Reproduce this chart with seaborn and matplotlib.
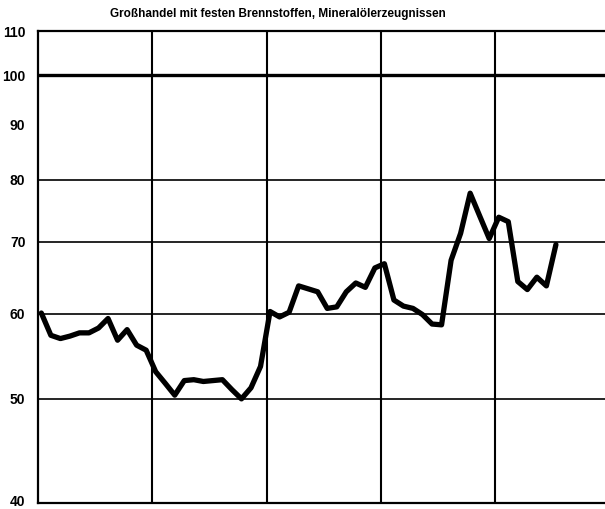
import numpy as np
import matplotlib
matplotlib.use('Agg')
import matplotlib.pyplot as plt
import matplotlib.transforms as mtransforms
import seaborn as sns

# monthly index values (log scale chart)
months = np.arange(55) + 0.35
index_values = [60.1, 57.3, 56.9, 57.2, 57.6, 57.6, 58.2, 59.4, 56.7, 58.0,
                56.1, 55.5, 53.0, 51.7, 50.4, 52.0, 52.1, 51.9, 52.0, 52.1,
                51.0, 50.0, 51.2, 53.6, 60.3, 59.6, 60.2, 63.7, 63.3, 62.9,
                60.7, 60.9, 62.9, 64.1, 63.5, 66.2, 66.8, 61.8, 61.0, 60.7,
                59.9, 58.7, 58.6, 67.3, 71.3, 77.7, 74.0, 70.5, 73.8, 73.1,
                64.3, 63.2, 64.9, 63.7, 69.6]
y_ticks = [40, 50, 60, 70, 80, 90, 100, 110]
grid_lines = [50, 60, 70, 80]
year_lines = [12, 24, 36, 48]
title = 'Großhandel mit festen Brennstoffen, Mineralölerzeugnissen'

sns.set_style('white')
plt.rcParams['font.family'] = ['Liberation Sans', 'DejaVu Sans']
plt.rcParams['text.color'] = 'black'
plt.rcParams['ytick.color'] = 'black'

fig = plt.figure(figsize=(6.05, 5.09), dpi=100)
ax = fig.add_axes([38 / 605, 6 / 509, 1 - 38 / 605, 472 / 509])

for v in grid_lines:
    ax.axhline(v, color='black', lw=1.2, zorder=1)
ax.axhline(100, color='black', lw=2.4, zorder=1)
for m in year_lines:
    ax.axvline(m, color='black', lw=1.5, zorder=1)

sns.lineplot(x=months, y=index_values, ax=ax, color='black', linewidth=3.8,
             zorder=3)

ax.set_yscale('log')
ax.set_ylim(40, 110)
ax.set_xlim(0, 59.5)
ax.set_yticks(y_ticks)
ax.set_yticklabels([str(t) for t in y_ticks], fontweight='bold', fontsize=10)
ax.yaxis.set_minor_locator(matplotlib.ticker.NullLocator())
ax.set_xticks([])
ax.tick_params(axis='y', length=0, pad=9)

# lift the bottom label a little so it stays inside the picture
lbl = ax.get_yticklabels()[0]
lbl.set_transform(lbl.get_transform() +
                  mtransforms.ScaledTranslation(0, 3 / 100, fig.dpi_scale_trans))

for side in ['left', 'top', 'bottom']:
    ax.spines[side].set_color('black')
    ax.spines[side].set_linewidth(1.6)
ax.spines['right'].set_visible(False)

fig.text(278 / 605, 1 - 14 / 509, title, ha='center', va='center',
         fontweight='bold', fontsize=8.5, color='black')

fig.savefig('out.png', dpi=100)
